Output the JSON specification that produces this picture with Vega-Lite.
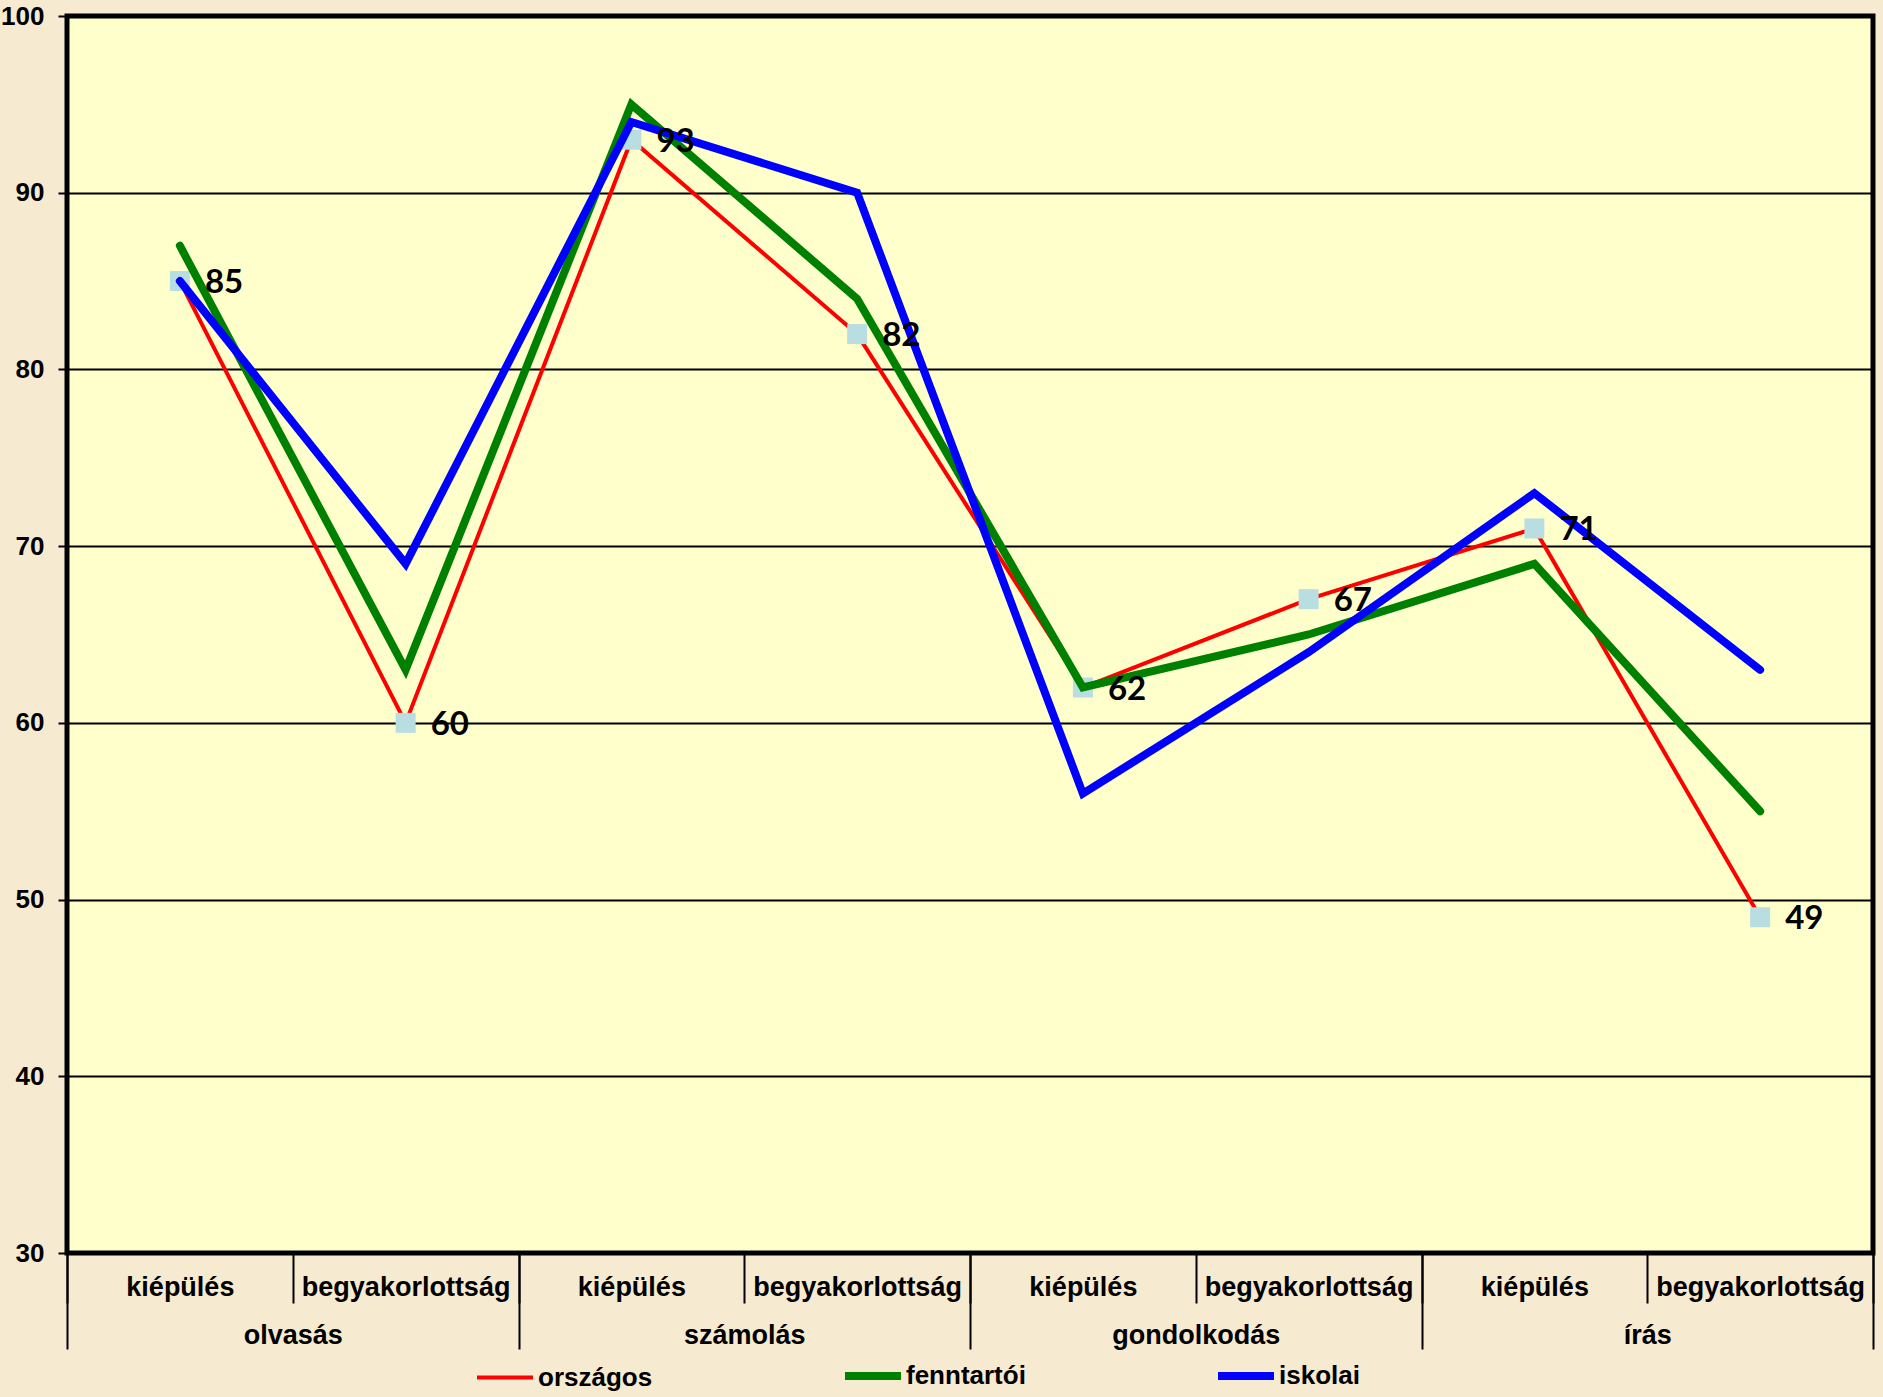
{
  "$schema": "https://vega.github.io/schema/vega-lite/v6.json",
  "width": 1806,
  "height": 1237,
  "autosize": {"type": "none"},
  "padding": {"left": 67, "top": 16, "right": 10, "bottom": 144},
  "background": "#f6ead0",
  "config": {
    "view": {"fill": "#ffffcc", "stroke": "#000000", "strokeWidth": 5},
    "font": "Liberation Sans"
  },
  "data": {
    "values": [
      {"kat": "olvasás|kiépülés", "terulet": "olvasás", "szint": "kiépülés", "sorozat": "országos", "ertek": 85},
      {"kat": "olvasás|begyakorlottság", "terulet": "olvasás", "szint": "begyakorlottság", "sorozat": "országos", "ertek": 60},
      {"kat": "számolás|kiépülés", "terulet": "számolás", "szint": "kiépülés", "sorozat": "országos", "ertek": 93},
      {"kat": "számolás|begyakorlottság", "terulet": "számolás", "szint": "begyakorlottság", "sorozat": "országos", "ertek": 82},
      {"kat": "gondolkodás|kiépülés", "terulet": "gondolkodás", "szint": "kiépülés", "sorozat": "országos", "ertek": 62},
      {"kat": "gondolkodás|begyakorlottság", "terulet": "gondolkodás", "szint": "begyakorlottság", "sorozat": "országos", "ertek": 67},
      {"kat": "írás|kiépülés", "terulet": "írás", "szint": "kiépülés", "sorozat": "országos", "ertek": 71},
      {"kat": "írás|begyakorlottság", "terulet": "írás", "szint": "begyakorlottság", "sorozat": "országos", "ertek": 49},
      {"kat": "olvasás|kiépülés", "terulet": "olvasás", "szint": "kiépülés", "sorozat": "fenntartói", "ertek": 87},
      {"kat": "olvasás|begyakorlottság", "terulet": "olvasás", "szint": "begyakorlottság", "sorozat": "fenntartói", "ertek": 63},
      {"kat": "számolás|kiépülés", "terulet": "számolás", "szint": "kiépülés", "sorozat": "fenntartói", "ertek": 95},
      {"kat": "számolás|begyakorlottság", "terulet": "számolás", "szint": "begyakorlottság", "sorozat": "fenntartói", "ertek": 84},
      {"kat": "gondolkodás|kiépülés", "terulet": "gondolkodás", "szint": "kiépülés", "sorozat": "fenntartói", "ertek": 62},
      {"kat": "gondolkodás|begyakorlottság", "terulet": "gondolkodás", "szint": "begyakorlottság", "sorozat": "fenntartói", "ertek": 65},
      {"kat": "írás|kiépülés", "terulet": "írás", "szint": "kiépülés", "sorozat": "fenntartói", "ertek": 69},
      {"kat": "írás|begyakorlottság", "terulet": "írás", "szint": "begyakorlottság", "sorozat": "fenntartói", "ertek": 55},
      {"kat": "olvasás|kiépülés", "terulet": "olvasás", "szint": "kiépülés", "sorozat": "iskolai", "ertek": 85},
      {"kat": "olvasás|begyakorlottság", "terulet": "olvasás", "szint": "begyakorlottság", "sorozat": "iskolai", "ertek": 69},
      {"kat": "számolás|kiépülés", "terulet": "számolás", "szint": "kiépülés", "sorozat": "iskolai", "ertek": 94},
      {"kat": "számolás|begyakorlottság", "terulet": "számolás", "szint": "begyakorlottság", "sorozat": "iskolai", "ertek": 90},
      {"kat": "gondolkodás|kiépülés", "terulet": "gondolkodás", "szint": "kiépülés", "sorozat": "iskolai", "ertek": 56},
      {"kat": "gondolkodás|begyakorlottság", "terulet": "gondolkodás", "szint": "begyakorlottság", "sorozat": "iskolai", "ertek": 64},
      {"kat": "írás|kiépülés", "terulet": "írás", "szint": "kiépülés", "sorozat": "iskolai", "ertek": 73},
      {"kat": "írás|begyakorlottság", "terulet": "írás", "szint": "begyakorlottság", "sorozat": "iskolai", "ertek": 63}
    ]
  },
  "layer": [
    {
      "encoding": {
        "x": {
          "field": "kat",
          "type": "nominal",
          "bandPosition": 0.5,
          "sort": ["olvasás|kiépülés", "olvasás|begyakorlottság", "számolás|kiépülés", "számolás|begyakorlottság", "gondolkodás|kiépülés", "gondolkodás|begyakorlottság", "írás|kiépülés", "írás|begyakorlottság"],
          "scale": {"type": "band", "paddingInner": 0, "paddingOuter": 0},
          "axis": {
            "orient": "bottom",
            "title": null,
            "domain": false,
            "grid": false,
            "ticks": true,
            "tickBand": "extent",
            "tickSize": 50,
            "tickWidth": 2,
            "tickColor": "#000000",
            "labelExpr": "split(datum.value, '|')[1]",
            "labelAngle": 0,
            "labelFont": "Liberation Sans",
            "labelFontWeight": "bold",
            "labelFontSize": 27,
            "labelColor": "#000000",
            "labelBaseline": "alphabetic",
            "labelPadding": -8,
            "labelLimit": 400,
            "labelOverlap": false
          }
        },
        "y": {
          "field": "ertek",
          "type": "quantitative",
          "scale": {"domain": [30, 100], "nice": false, "zero": false},
          "axis": {
            "title": null,
            "values": [30, 40, 50, 60, 70, 80, 90, 100],
            "grid": true,
            "gridColor": "#000000",
            "gridWidth": 2,
            "gridOpacity": 1,
            "domain": false,
            "ticks": true,
            "tickSize": 9,
            "tickWidth": 2,
            "tickColor": "#000000",
            "labelFont": "Liberation Sans",
            "labelFontWeight": "bold",
            "labelFontSize": 26,
            "labelColor": "#000000",
            "labelPadding": 14,
            "labelFlush": false,
            "labelOverlap": false
          }
        },
        "color": {
          "field": "sorozat",
          "type": "nominal",
          "scale": {"domain": ["országos", "fenntartói", "iskolai"], "range": ["#ff0000", "#008000", "#0000ff"]},
          "legend": {
            "orient": "none",
            "legendX": 425,
            "legendY": 1347,
            "direction": "horizontal",
            "title": null,
            "symbolType": "stroke",
            "symbolSize": 3136,
            "symbolStrokeWidth": 7,
            "labelFont": "Liberation Sans",
            "labelFontWeight": "bold",
            "labelFontSize": 26,
            "labelColor": "#000000",
            "columnPadding": 176,
            "labelOffset": 20,
            "padding": 0,
            "encode": {
              "symbols": {
                "update": {
                  "strokeWidth": {"signal": "datum.value === 'országos' ? 4 : 8"}
                }
              }
            }
          }
        }
      },
      "layer": [
        {
          "transform": [{"filter": "datum.sorozat === 'országos'"}],
          "mark": {"type": "line", "strokeCap": "round", "strokeWidth": 4}
        },
        {
          "transform": [{"filter": "datum.sorozat === 'országos'"}],
          "mark": {"type": "point", "shape": "square", "filled": true, "size": 400, "opacity": 1},
          "encoding": {"color": {"value": "#b8dee2"}}
        },
        {
          "transform": [{"filter": "datum.sorozat !== 'országos'"}],
          "mark": {"type": "line", "strokeCap": "round", "strokeWidth": 8}
        },
        {
          "transform": [{"filter": "datum.sorozat === 'országos'"}],
          "mark": {"type": "text", "align": "left", "baseline": "middle", "dx": 25, "dy": 2, "font": "Lato", "fontWeight": "bold", "fontSize": 33},
          "encoding": {"text": {"field": "ertek", "type": "quantitative"}, "color": {"value": "#000000"}}
        }
      ]
    },
    {
      "mark": {"type": "point", "opacity": 0},
      "encoding": {
        "x": {
          "field": "terulet",
          "type": "nominal",
          "sort": ["olvasás", "számolás", "gondolkodás", "írás"],
          "scale": {"type": "band", "paddingInner": 0, "paddingOuter": 0},
          "axis": {
            "orient": "bottom",
            "title": null,
            "domain": false,
            "grid": false,
            "ticks": true,
            "tickBand": "extent",
            "tickSize": 96,
            "tickWidth": 2,
            "tickColor": "#000000",
            "labelAngle": 0,
            "labelFont": "Liberation Sans",
            "labelFontWeight": "bold",
            "labelFontSize": 27,
            "labelColor": "#000000",
            "labelBaseline": "alphabetic",
            "labelPadding": -6,
            "labelLimit": 400,
            "labelOverlap": false
          }
        }
      }
    }
  ],
  "resolve": {"scale": {"x": "independent"}}
}
